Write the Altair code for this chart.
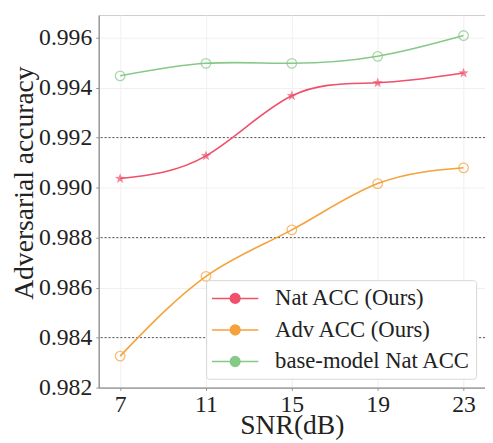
import altair as alt
import pandas as pd

snr = [7, 11, 15, 19, 23]
nat_acc = [0.99036, 0.99127, 0.99367, 0.99419, 0.99458]
adv_acc = [0.98326, 0.98645, 0.98831, 0.99016, 0.99079]
base_acc = [0.99447, 0.99497, 0.99497, 0.99525, 0.99608]
series = ["Nat ACC (Ours)", "Adv ACC (Ours)", "base-model Nat ACC"]
colors = ["#f0506a", "#f5a23c", "#86c987"]
y_ticks = [0.982, 0.984, 0.986, 0.988, 0.990, 0.992, 0.994, 0.996]
dotted_levels = [0.984, 0.988, 0.992]

rows = []
for name, vals in zip(series, [nat_acc, adv_acc, base_acc]):
    for s, v in zip(snr, vals):
        rows.append({"snr": s, "acc": v, "series": name})
df = pd.DataFrame(rows)
rules_df = pd.DataFrame({"acc": dotted_levels})

FONT = "Liberation Serif"
y_scale = alt.Scale(domain=[0.982, 0.9969], nice=False, zero=False)
x_scale = alt.Scale(domain=[6, 24], nice=False, zero=False)

x_enc = alt.X("snr:Q", scale=x_scale, axis=alt.Axis(values=snr, title="SNR(dB)"))
y_enc = alt.Y("acc:Q", scale=y_scale,
              axis=alt.Axis(values=y_ticks, format=".3f", title="Adversarial accuracy", titleY=170))
stroke_enc = alt.Stroke("series:N", scale=alt.Scale(domain=series, range=colors), legend=None)
fill_enc = alt.Fill("series:N", scale=alt.Scale(domain=series, range=colors), legend=None)

star_marker = ("M0,-1L0.235,-0.324L0.951,-0.309L0.38,0.124L0.588,0.809L0,0.4"
               "L-0.588,0.809L-0.38,0.124L-0.951,-0.309L-0.235,-0.324Z")
legend_circ = ("M-1.88,0L-0.4,0M0.4,0L1.88,0"
               "M0.4,0L0.346,0.2L0.2,0.346L0,0.4L-0.2,0.346L-0.346,0.2L-0.4,0"
               "L-0.346,-0.2L-0.2,-0.346L0,-0.4L0.2,-0.346L0.346,-0.2Z")

rules = alt.Chart(rules_df).mark_rule(color="#555555", strokeDash=[2, 2], strokeWidth=1).encode(
    y=alt.Y("acc:Q", scale=y_scale)
)

lines = alt.Chart(df).mark_line(interpolate="natural", strokeWidth=1.6).encode(
    x=x_enc, y=y_enc,
    color=alt.Color("series:N", scale=alt.Scale(domain=series, range=colors),
                    legend=alt.Legend(title=None, orient="bottom-right", offset=9,
                                      symbolType=legend_circ, symbolFillColor="transparent"))
)

circles = alt.Chart(df).transform_filter(alt.datum.series != series[0]).mark_point(
    shape="circle", filled=False, size=95, strokeWidth=1.3
).encode(x=x_enc, y=y_enc, stroke=stroke_enc)

stars = alt.Chart(df).transform_filter(alt.datum.series == series[0]).mark_point(
    shape=star_marker, filled=True, size=120, strokeWidth=0
).encode(x=x_enc, y=y_enc, fill=fill_enc)

chart = alt.layer(rules, lines, circles, stars).properties(
    width=392, height=378,
    autosize=alt.AutoSizeParams(type="none"),
    padding={"left": 92, "top": 4, "right": 0, "bottom": 50},
).configure_view(
    stroke="#cccccc", strokeWidth=1
).configure_axis(
    labelFont=FONT, titleFont=FONT, labelFontSize=24, titleFontSize=28,
    labelColor="#222222", titleColor="#222222", titleFontWeight="normal",
    domainColor="#777777", tickColor="#999999", tickSize=3,
    gridColor="#f0f0f0", grid=True,
).configure_axisY(
    labelPadding=4, titlePadding=0,
).configure_axisX(
    labelPadding=2, titlePadding=-4,
).configure_legend(
    labelFont=FONT, labelFontSize=23, labelColor="#222222", labelLimit=400,
    strokeColor="#d6d6d6", fillColor="white", padding=5, cornerRadius=3,
    rowPadding=6, symbolSize=625, symbolOffset=11, labelOffset=27,
    symbolStrokeWidth=1.5,
)

chart.save("out.html", embed_options={"renderer": "svg", "actions": False})
